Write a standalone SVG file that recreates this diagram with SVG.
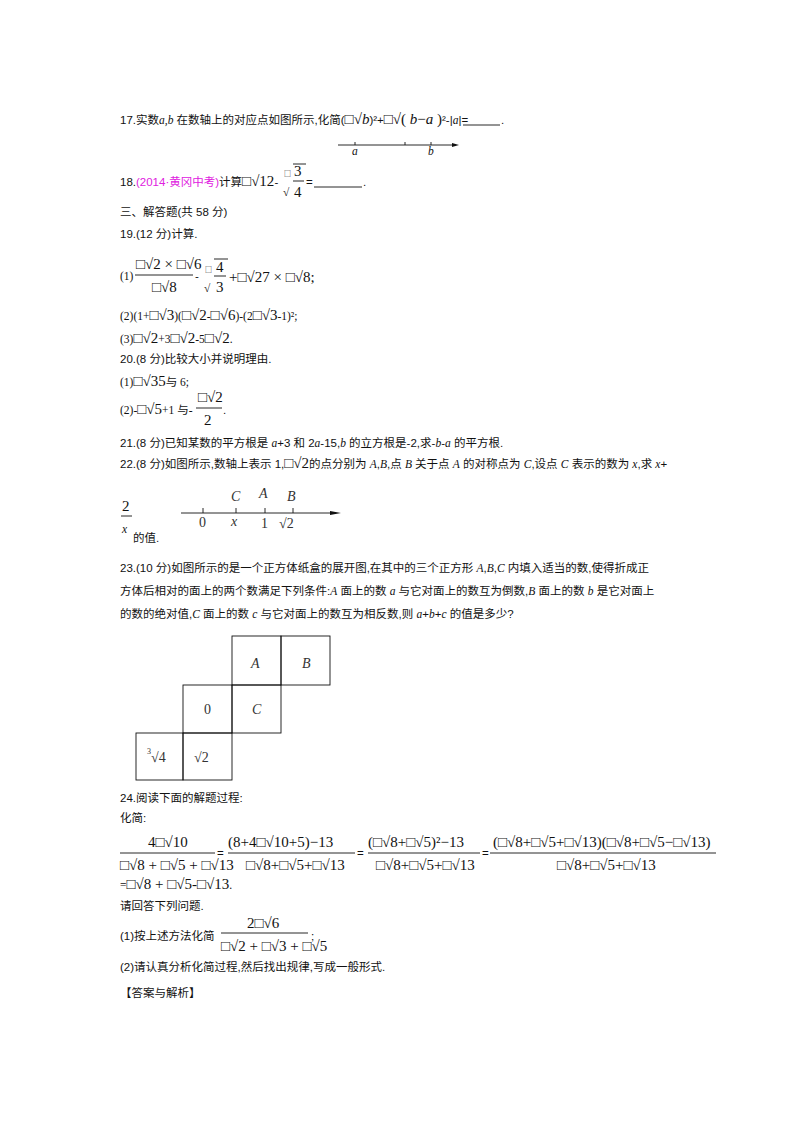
<svg xmlns="http://www.w3.org/2000/svg" width="800" height="1132" viewBox="0 0 800 1132">
<style>
text{font-family:"Liberation Sans","Noto Sans CJK SC",sans-serif;font-size:11.5px;fill:#111}
.m{font-family:"Liberation Serif","Noto Sans CJK SC",serif}
.i{font-family:"Liberation Serif",serif;font-style:italic}
.b{font-family:"Liberation Serif",serif;font-size:15px}
.bx{font-size:7px;font-family:"Noto Sans CJK SC",sans-serif}
.pk{fill:#e020e0}
.ln{stroke:#111;stroke-width:0.9;fill:none}
.fig{font-family:"Liberation Serif",serif;font-size:14px;fill:#333}
</style>
<rect width="800" height="1132" fill="#fff"/>
<g id="q17">
<text x="120" y="124">17.实数<tspan class="i">a,b</tspan> 在数轴上的对应点如图所示,化简(<tspan class="b">□√<tspan font-style="italic">b</tspan></tspan>)²+<tspan class="b">□√( <tspan font-style="italic">b</tspan>−<tspan font-style="italic">a</tspan> )</tspan>²-|<tspan class="i">a</tspan>|=</text>
<line class="ln" x1="463" y1="125" x2="500" y2="125"/>
<text x="501" y="124">.</text>
</g>
<g id="numline1">
<line class="ln" x1="338" y1="145" x2="456" y2="145"/>
<path d="M452 143 L459 145 L452 147 Z" fill="#111"/>
<line class="ln" x1="355" y1="142" x2="355" y2="145"/>
<line class="ln" x1="405" y1="142" x2="405" y2="145"/>
<line class="ln" x1="431" y1="142" x2="431" y2="145"/>
<text class="i" x="352" y="155" font-size="9">a</text>
<text class="i" x="428" y="155" font-size="9">b</text>
</g>
<g id="q18">
<text x="120" y="186">18.<tspan class="pk">(2014·黄冈中考)</tspan>计算<tspan class="b">□√12</tspan>-</text>
<text class="bx" x="284" y="176">□</text>
<text class="m" x="283" y="196" font-size="26">√</text>
<text class="b" x="294" y="176">3</text>
<line class="ln" x1="293" y1="181" x2="304" y2="181"/>
<line class="ln" x1="293" y1="164" x2="306" y2="164"/>
<text class="b" x="294" y="197">4</text>
<text x="306" y="186">=</text>
<line class="ln" x1="314" y1="187" x2="362" y2="187"/>
<text x="363" y="186">.</text>
</g>
<g id="sec3">
<text x="120" y="216">三、解答题(共 58 分)</text>
<text x="120" y="238">19.(12 分)计算.</text>
</g>
<g id="q19">
<text x="120" y="280" class="m">(1)</text>
<text class="b" x="136" y="269">□√2 × □√6</text>
<line class="ln" x1="135" y1="275" x2="193" y2="275"/>
<text class="b" x="152" y="292">□√8</text>
<text x="195" y="280">-</text>
<text class="bx" x="205" y="272">□</text>
<text class="m" x="204" y="292" font-size="26">√</text>
<line class="ln" x1="214" y1="259" x2="228" y2="259"/>
<text class="b" x="216" y="272">4</text>
<line class="ln" x1="214" y1="276" x2="226" y2="276"/>
<text class="b" x="216" y="292">3</text>
<text class="b" x="229" y="282">+□√27 × □√8;</text>
<text x="120" y="320" class="m">(2)(1+<tspan class="b">□√3</tspan>)(<tspan class="b">□√2</tspan>-<tspan class="b">□√6</tspan>)-(2<tspan class="b">□√3</tspan>-1)²;</text>
<text x="120" y="343" class="m">(3)<tspan class="b">□√2</tspan>+3<tspan class="b">□√2</tspan>-5<tspan class="b">□√2</tspan>.</text>
</g>
<g id="q20">
<text x="120" y="363">20.(8 分)比较大小并说明理由.</text>
<text x="120" y="386" class="m">(1)<tspan class="b">□√35</tspan>与 6;</text>
<text x="120" y="414" class="m">(2)-<tspan class="b">□√5</tspan>+1 与-</text>
<text class="b" x="198" y="402">□√2</text>
<line class="ln" x1="196" y1="408" x2="222" y2="408"/>
<text class="b" x="204" y="425">2</text>
<text x="223" y="414">.</text>
</g>
<g id="q21">
<text x="120" y="447">21.(8 分)已知某数的平方根是 <tspan class="i">a</tspan>+3 和 2<tspan class="i">a</tspan>-15,<tspan class="i">b</tspan> 的立方根是-2,求-<tspan class="i">b</tspan>-<tspan class="i">a</tspan> 的平方根.</text>
<text x="120" y="468">22.(8 分)如图所示,数轴上表示 1,<tspan class="b">□√2</tspan>的点分别为 <tspan class="i">A</tspan>,<tspan class="i">B</tspan>,点 <tspan class="i">B</tspan> 关于点 <tspan class="i">A</tspan> 的对称点为 <tspan class="i">C</tspan>,设点 <tspan class="i">C</tspan> 表示的数为 <tspan class="i">x</tspan>,求 <tspan class="i">x</tspan>+</text>
<text class="b" x="122" y="511">2</text>
<line class="ln" x1="121" y1="516" x2="132" y2="516"/>
<text class="i" x="122" y="533" font-size="15">x</text>
<text x="133" y="542">的值.</text>
</g>
<g id="numline2">
<line class="ln" x1="181" y1="513" x2="336" y2="513"/>
<path d="M330 511 L341 513 L330 515 Z" fill="#111"/>
<line class="ln" x1="203" y1="508" x2="203" y2="513"/>
<line class="ln" x1="236" y1="508" x2="236" y2="513"/>
<line class="ln" x1="265" y1="508" x2="265" y2="513"/>
<line class="ln" x1="293" y1="508" x2="293" y2="513"/>
<text class="fig" x="231" y="501" font-style="italic">C</text>
<text class="fig" x="259" y="498" font-style="italic">A</text>
<text class="fig" x="287" y="501" font-style="italic">B</text>
<text class="fig" x="199" y="527">0</text>
<text class="fig" x="231" y="526" font-style="italic">x</text>
<text class="fig" x="261" y="528">1</text>
<text class="fig" x="279" y="528">√2</text>
</g>
<g id="q23">
<text x="120" y="572">23.(10 分)如图所示的是一个正方体纸盒的展开图,在其中的三个正方形 <tspan class="i">A</tspan>,<tspan class="i">B</tspan>,<tspan class="i">C</tspan> 内填入适当的数,使得折成正</text>
<text x="120" y="595">方体后相对的面上的两个数满足下列条件:<tspan class="i">A</tspan> 面上的数 <tspan class="i">a</tspan> 与它对面上的数互为倒数,<tspan class="i">B</tspan> 面上的数 <tspan class="i">b</tspan> 是它对面上</text>
<text x="120" y="618">的数的绝对值,<tspan class="i">C</tspan> 面上的数 <tspan class="i">c</tspan> 与它对面上的数互为相反数,则 <tspan class="i">a</tspan>+<tspan class="i">b</tspan>+<tspan class="i">c</tspan> 的值是多少?</text>
</g>
<g id="net">
<rect class="ln" x="232" y="636" width="49" height="49"/>
<rect class="ln" x="281" y="636" width="49" height="49"/>
<rect class="ln" x="183" y="685" width="49" height="48"/>
<rect class="ln" x="232" y="685" width="49" height="48"/>
<rect class="ln" x="136" y="733" width="47" height="47"/>
<rect class="ln" x="183" y="733" width="49" height="47"/>
<text class="fig" x="251" y="668" font-style="italic">A</text>
<text class="fig" x="302" y="668" font-style="italic">B</text>
<text class="fig" x="204" y="714" font-size="12">0</text>
<text class="fig" x="252" y="714" font-style="italic">C</text>
<text class="fig" x="147" y="762"><tspan font-size="8" dy="-8">3</tspan><tspan dy="8">√4</tspan></text>
<text class="fig" x="194" y="762">√2</text>
</g>
<g id="q24">
<text x="120" y="802">24.阅读下面的解题过程:</text>
<text x="120" y="822">化简:</text>
<text class="b" x="148" y="847">4□√10</text>
<line class="ln" x1="120" y1="853" x2="215" y2="853"/>
<text class="b" x="120" y="870">□√8 + □√5 + □√13</text>
<text x="217" y="857">=</text>
<text class="b" x="228" y="847">(8+4□√10+5)−13</text>
<line class="ln" x1="228" y1="853" x2="355" y2="853"/>
<text class="b" x="246" y="870">□√8+□√5+□√13</text>
<text x="357" y="857">=</text>
<text class="b" x="368" y="847">(□√8+□√5)²−13</text>
<line class="ln" x1="368" y1="853" x2="480" y2="853"/>
<text class="b" x="376" y="870">□√8+□√5+□√13</text>
<text x="482" y="857">=</text>
<text class="b" x="493" y="847">(□√8+□√5+□√13)(□√8+□√5−□√13)</text>
<line class="ln" x1="490" y1="853" x2="716" y2="853"/>
<text class="b" x="557" y="870">□√8+□√5+□√13</text>
<text class="m" x="120" y="889">=<tspan class="b">□√8 + □√5-□√13</tspan>.</text>
<text x="120" y="910">请回答下列问题.</text>
<text x="120" y="940">(1)按上述方法化简</text>
<text class="b" x="247" y="928">2□√6</text>
<line class="ln" x1="221" y1="933" x2="308" y2="933"/>
<text class="b" x="221" y="951">□√2 + □√3 + □√5</text>
<text x="311" y="940">;</text>
<text x="120" y="971">(2)请认真分析化简过程,然后找出规律,写成一般形式.</text>
<text x="120" y="997">【答案与解析】</text>
</g>
</svg>
